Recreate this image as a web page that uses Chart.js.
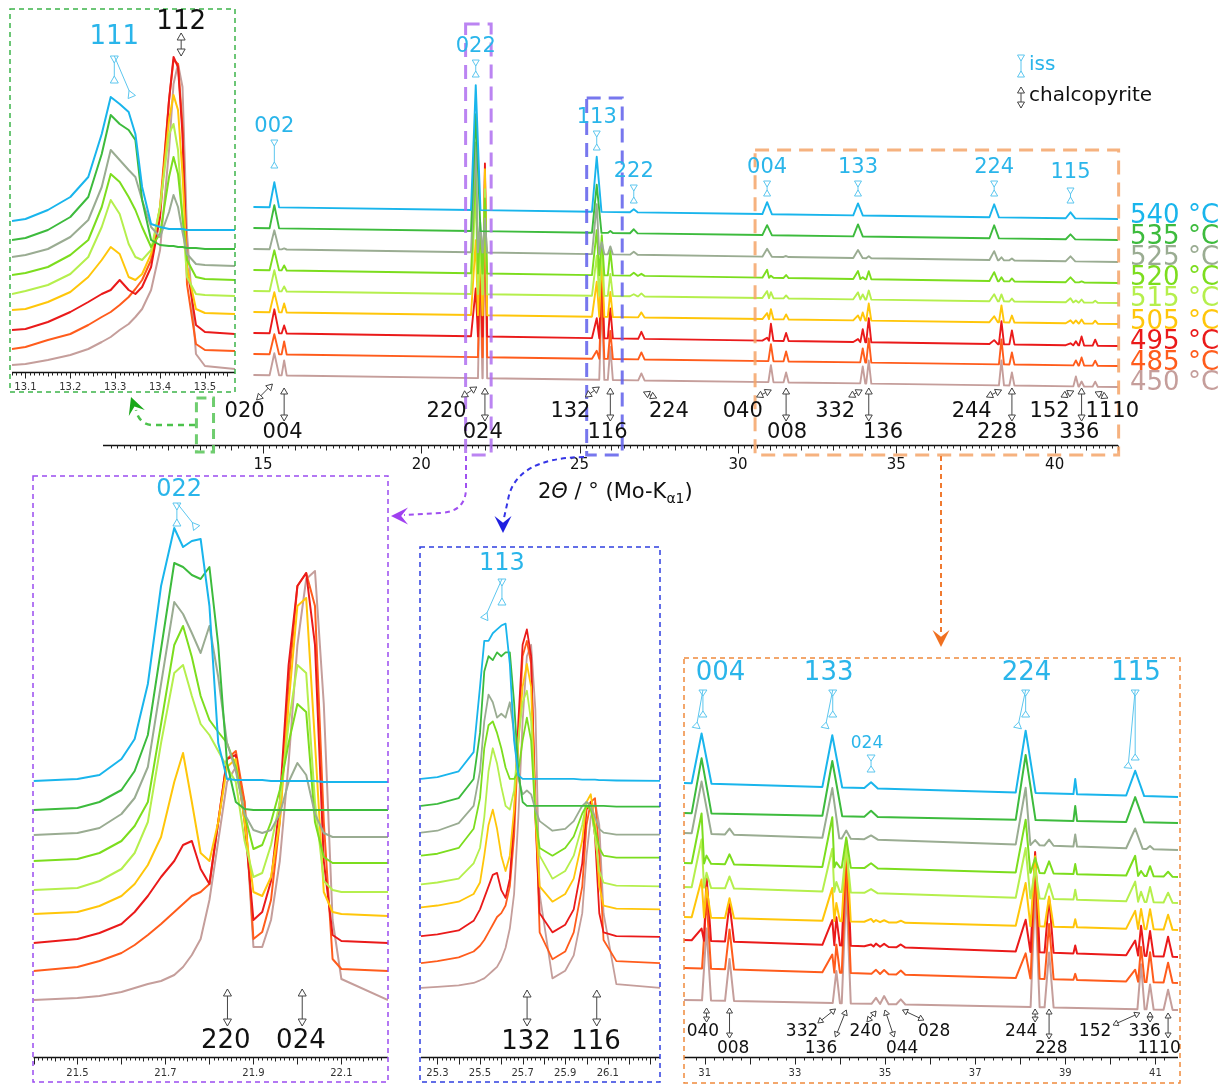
<!DOCTYPE html>
<html>
<head>
<meta charset="utf-8">
<script src="https://cdn.jsdelivr.net/npm/chart.js@4.4.0/dist/chart.umd.min.js"></script>
<style>
body { margin: 0; background: #fff; }
#wrap { position: relative; width: 1228px; height: 1085px; overflow: hidden; background: #fff; }
#wrap canvas { position: absolute; left: 0; top: 0; }
</style>
</head>
<body>
<div id="wrap">
  <canvas id="main" width="1228" height="1085"></canvas>
  <canvas id="inset1" width="1228" height="1085"></canvas>
  <canvas id="inset2" width="1228" height="1085"></canvas>
  <canvas id="inset3" width="1228" height="1085"></canvas>
  <canvas id="inset4" width="1228" height="1085"></canvas>
</div>
<script>
// temperatures, top trace first (drawn on top)
const temps = ['540', '535', '525', '520', '515', '505', '495', '485', '450'];
const traceColors = ['#19b5ec', '#3dbb3d', '#9aac92', '#7cdd1e', '#b5ef4d', '#ffc60a', '#ea1a1a', '#ff5c1c', '#c59e9b'];

// ---- main pattern: peak positions (2theta), half widths, heights per trace ----
const mainRange = [14.70, 42.0];
const mainBaseStart = [238, 217, 196, 175, 154, 133, 112, 91, 70];
const mainBaseEnd = [226, 205, 183, 162, 142, 121, 99, 79, 58];
const mainPeaks = [15.36, 15.67, 21.72, 21.86, 22.01, 25.54, 25.70, 25.97, 26.71, 26.95, 30.92, 31.04, 31.52,
  33.79, 33.94, 34.13, 38.09, 38.32, 38.65, 40.50, 40.67, 40.85, 41.28];
const mainWidths = [0.15, 0.08, 0.15, 0.07, 0.07, 0.15, 0.08, 0.08, 0.12, 0.1, 0.15, 0.08, 0.08,
  0.15, 0.08, 0.08, 0.15, 0.08, 0.08, 0.15, 0.08, 0.08, 0.08];
const mainHeights = [
  [25, 0, 125, 0, 0, 55, 0, 0, 3, 0, 12, 0, 0, 12, 0, 0, 13, 0, 0, 6, 0, 0, 0],
  [23, 0, 117, 0, 0, 48, 0, 2, 4, 0, 10, 0, 0, 12, 0, 0, 13, 0, 0, 5, 0, 0, 0],
  [19, 1, 110, 30, 34, 50, 12, 8, 3, 0, 8, 0, 1, 8, 0, 2, 9, 3, 2, 5, 0, 0, 0],
  [20, 5, 110, 44, 75, 45, 40, 25, 3, 2, 8, 2, 3, 8, 2, 8, 9, 4, 3, 5, 0, 1, 0],
  [21, 5, 105, 55, 105, 40, 50, 22, 2, 3, 7, 6, 3, 7, 5, 9, 7, 7, 3, 4, 2, 3, 2],
  [20, 9, 75, 73, 146, 35, 60, 25, 0, 5, 6, 10, 5, 5, 8, 17, 6, 17, 7, 3, 3, 4, 3],
  [24, 8, 48, 88, 173, 20, 75, 30, 0, 7, 3, 17, 8, 3, 13, 24, 4, 23, 14, 2, 4, 9, 6],
  [20, 13, 0, 103, 186, 8, 70, 28, 0, 7, 0, 17, 10, 0, 14, 24, 0, 25, 12, 0, 5, 8, 5],
  [22, 15, 0, 109, 200, 0, 82, 33, 0, 7, 0, 17, 10, 0, 17, 23, 0, 25, 13, 0, 10, 5, 5]
];

// ---- inset 1 (111 / 112) ----
const in1X = [13.07, 13.10, 13.15, 13.20, 13.24, 13.27, 13.29, 13.31, 13.33, 13.345, 13.36, 13.38, 13.40,
  13.42, 13.43, 13.44, 13.45, 13.46, 13.48, 13.50, 13.567];
const in1Y = [
  [151, 153, 162, 175, 195, 238, 275, 268, 260, 238, 185, 148, 145, 143, 143, 143, 143, 142, 142, 142, 142],
  [132, 134, 142, 155, 175, 218, 257, 248, 242, 232, 172, 132, 127, 126, 126, 125, 125, 124, 124, 123, 123],
  [115, 117, 123, 135, 152, 185, 222, 212, 202, 195, 172, 145, 135, 160, 177, 165, 140, 118, 108, 107, 106],
  [97, 99, 105, 117, 132, 165, 198, 190, 175, 162, 145, 125, 138, 195, 215, 198, 155, 112, 95, 93, 92],
  [78, 81, 87, 98, 115, 145, 172, 158, 128, 115, 112, 122, 165, 238, 248, 222, 155, 95, 78, 77, 76],
  [62, 63, 70, 80, 95, 112, 125, 118, 95, 92, 98, 118, 165, 252, 277, 262, 198, 105, 63, 59, 58],
  [42, 43, 50, 60, 70, 78, 82, 92, 82, 78, 85, 105, 155, 272, 315, 305, 238, 105, 47, 40, 38],
  [23, 25, 32, 38, 47, 55, 60, 67, 75, 83, 92, 112, 165, 272, 312, 308, 245, 88, 28, 22, 21],
  [7, 8, 12, 17, 23, 30, 35, 42, 48, 55, 63, 82, 122, 222, 288, 308, 285, 138, 18, 6, 3]
];

// ---- inset 2 (022 / 220 / 024) ----
const in2X = [21.40, 21.50, 21.55, 21.60, 21.63, 21.66, 21.69, 21.72, 21.74, 21.76, 21.78, 21.80, 21.82, 21.84,
  21.86, 21.88, 21.90, 21.92, 21.94, 21.96, 21.98, 22.00, 22.02, 22.04, 22.06, 22.08, 22.10, 22.206];
const in2Y = [
  [276, 278, 282, 298, 318, 373, 471, 529, 510, 516, 518, 451, 314, 278, 277, 277, 277, 277, 276, 276, 276, 276, 276, 276, 275, 275, 275, 275],
  [247, 249, 255, 267, 286, 322, 408, 494, 490, 482, 478, 490, 412, 294, 255, 248, 247, 247, 247, 247, 247, 247, 247, 247, 247, 247, 247, 247],
  [222, 224, 229, 243, 259, 290, 373, 455, 443, 424, 404, 431, 380, 314, 286, 243, 227, 224, 227, 243, 275, 294, 282, 243, 224, 220, 220, 220],
  [196, 198, 204, 216, 231, 255, 333, 412, 431, 400, 361, 337, 325, 314, 290, 243, 208, 212, 235, 267, 314, 353, 345, 235, 200, 194, 194, 194],
  [167, 169, 176, 188, 204, 235, 314, 384, 392, 361, 333, 322, 306, 290, 275, 216, 180, 184, 212, 255, 333, 392, 384, 255, 176, 167, 165, 165],
  [143, 145, 151, 161, 173, 192, 220, 275, 304, 255, 204, 196, 235, 290, 298, 235, 165, 161, 180, 235, 353, 451, 459, 314, 165, 145, 143, 141],
  [114, 118, 124, 133, 145, 161, 180, 196, 212, 216, 188, 173, 235, 298, 302, 235, 137, 145, 176, 255, 392, 471, 484, 412, 196, 122, 116, 114],
  [86, 90, 96, 104, 112, 122, 133, 145, 153, 161, 165, 173, 235, 298, 306, 255, 118, 125, 157, 235, 373, 471, 484, 451, 235, 98, 88, 86],
  [57, 59, 61, 65, 69, 73, 76, 82, 90, 102, 118, 157, 216, 275, 290, 255, 110, 110, 137, 196, 294, 412, 478, 486, 353, 137, 78, 57]
];

// ---- inset 3 (113 / 132 / 116) ----
const in3X = [25.223, 25.30, 25.40, 25.47, 25.50, 25.52, 25.54, 25.56, 25.58, 25.60, 25.62, 25.64, 25.66, 25.68, 25.70,
  25.72, 25.74, 25.76, 25.78, 25.84, 25.90, 25.94, 25.98, 26.00, 26.02, 26.04, 26.06, 26.08, 26.14, 26.345];
const in3Y = [
  [725, 730, 745, 795, 965, 1085, 1085, 1105, 1115, 1125, 1130, 1025, 825, 735, 725, 725, 725, 725, 725, 725, 725, 725, 723, 723, 723, 723, 722, 722, 721, 720],
  [655, 660, 675, 725, 845, 1005, 1045, 1035, 1055, 1045, 1055, 1055, 925, 745, 665, 655, 655, 655, 655, 655, 655, 655, 655, 655, 655, 655, 655, 655, 653, 653],
  [585, 590, 610, 655, 745, 875, 945, 925, 885, 895, 885, 925, 845, 725, 685, 695, 685, 645, 615, 590, 595, 615, 655, 665, 655, 625, 595, 585, 580, 580],
  [525, 530, 545, 595, 675, 805, 865, 875, 845, 805, 755, 725, 725, 745, 825, 885, 825, 625, 545, 525, 545, 575, 635, 655, 645, 595, 545, 525, 520, 520],
  [450, 455, 465, 505, 545, 625, 745, 805, 765, 705, 655, 645, 695, 825, 925, 955, 875, 645, 525, 465, 485, 525, 605, 665, 655, 575, 485, 455, 447, 445],
  [390, 395, 405, 425, 455, 525, 605, 645, 595, 525, 485, 525, 645, 825, 965, 1025, 965, 625, 445, 405, 425, 465, 565, 665, 685, 605, 445, 395, 387, 385],
  [315, 320, 330, 355, 385, 415, 445, 475, 480, 435, 415, 465, 625, 875, 1075, 1115, 1045, 625, 375, 325, 345, 385, 505, 645, 665, 575, 375, 325, 315, 313],
  [245, 250, 260, 275, 290, 305, 325, 345, 365, 375, 395, 445, 575, 825, 1045, 1085, 1025, 675, 325, 255, 275, 325, 445, 605, 665, 675, 525, 305, 250, 245],
  [180, 183, 187, 193, 200, 205, 215, 225, 235, 255, 285, 335, 425, 625, 875, 1045, 1075, 905, 425, 205, 225, 265, 375, 525, 625, 665, 605, 375, 190, 180]
];

// ---- inset 4 (30.5 - 41.5 deg) ----
const in4Range = [30.54, 41.5];
const in4BaseStart = [274, 244, 224, 194, 170, 140, 117, 89, 57];
const in4BaseEnd = [260, 234, 207, 180, 154, 127, 100, 74, 47];
const in4Peaks = [30.93, 31.04, 31.55, 33.83, 33.92, 34.14, 34.69, 34.80, 34.98, 35.35, 38.12, 38.33, 38.64, 39.22, 40.55, 40.68, 40.88, 41.28];
const in4Widths = [0.22, 0.1, 0.1, 0.22, 0.08, 0.1, 0.15, 0.1, 0.1, 0.1, 0.22, 0.1, 0.1, 0.04, 0.2, 0.08, 0.08, 0.1];
const in4Heights = [
  [50, 0, 0, 52, 0, 0, 6, 0, 0, 0, 62, 0, 0, 15, 25, 0, 0, 0],
  [55, 0, 0, 55, 0, 0, 6, 0, 0, 0, 65, 0, 0, 15, 25, 0, 0, 0],
  [52, 0, 6, 50, 0, 8, 4, 0, 0, 0, 57, 5, 6, 12, 20, 0, 3, 0],
  [50, 8, 10, 50, 5, 30, 5, 0, 0, 0, 53, 15, 12, 10, 20, 5, 10, 5],
  [48, 15, 12, 43, 10, 45, 4, 0, 0, 0, 50, 30, 15, 10, 20, 10, 15, 10],
  [38, 30, 20, 33, 18, 80, 3, 2, 2, 2, 43, 70, 30, 8, 18, 20, 20, 15],
  [12, 65, 38, 25, 28, 105, 2, 3, 3, 3, 32, 100, 55, 8, 15, 30, 25, 20],
  [0, 70, 40, 18, 28, 110, 0, 4, 4, 4, 25, 110, 55, 6, 12, 35, 30, 20],
  [0, 72, 42, 0, 32, 115, 0, 6, 8, 5, 0, 115, 55, 0, 0, 45, 25, 20]
];

const W = 1228, H = 1085;
const ISS = '#2ab5ea';
const ISS_LINE = '#5cc6ee';
const CH = '#444';
const FONT = '"DejaVu Sans", Verdana, sans-serif';

// sloping baseline with a triangle per listed peak
function buildPeakTrace(range, b0, b1, peaks, widths, heights) {
  const base = x => b0 + (b1 - b0) * (x - range[0]) / (range[1] - range[0]);
  const idx = peaks.map((p, i) => i).filter(i => heights[i] > 0);
  const pts = [{x: range[0], y: b0}];
  idx.forEach((i, k) => {
    const p = peaks[i];
    let l = p - widths[i], r = p + widths[i];
    if (k > 0) l = Math.max(l, (peaks[idx[k - 1]] + p) / 2);
    if (k < idx.length - 1) r = Math.min(r, (p + peaks[idx[k + 1]]) / 2);
    pts.push({x: l, y: base(l)}, {x: p, y: base(p) + heights[i]}, {x: r, y: base(r)});
  });
  pts.push({x: range[1], y: b1});
  return pts;
}

function sampled(xs, ys) {
  return xs.map((x, i) => ({x: x, y: ys[i]}));
}

const onStep = (v, s) => Math.abs(v / s - Math.round(v / s)) < 1e-6;

// axis line, ruler ticks and tick labels from the x scale's ticks
function drawAxis(chart, ax) {
  const sc = chart.scales.x, ctx = chart.ctx, area = chart.chartArea;
  const y0 = Math.round(area.bottom) + 0.5;
  ctx.save();
  ctx.strokeStyle = '#111';
  ctx.lineWidth = 1.5;
  ctx.beginPath();
  ctx.moveTo(area.left, y0);
  ctx.lineTo(area.right, y0);
  ctx.stroke();
  ctx.lineWidth = 1;
  ctx.strokeStyle = '#222';
  ctx.beginPath();
  sc.ticks.forEach(t => {
    const v = t.value;
    if (!onStep(v, ax.minor)) return;
    let len = ax.lens[0];
    if (onStep(v, ax.major)) len = ax.lens[2];
    else if (ax.mid && onStep(v, ax.mid)) len = ax.lens[1];
    const x = Math.round(sc.getPixelForValue(v)) + 0.5;
    ctx.moveTo(x, y0);
    ctx.lineTo(x, y0 + len);
  });
  ctx.stroke();
  ctx.font = ax.size + 'px ' + FONT;
  ctx.fillStyle = ax.color;
  ctx.textAlign = 'center';
  ctx.textBaseline = 'middle';
  sc.ticks.forEach(t => {
    const lab = ax.label(t.value);
    if (lab) ctx.fillText(lab, sc.getPixelForValue(t.value), y0 + ax.offset);
  });
  ctx.restore();
}

function text(ctx, s, x, y, size, color, align) {
  ctx.save();
  ctx.font = size + 'px ' + FONT;
  ctx.fillStyle = color;
  ctx.textAlign = align || 'center';
  ctx.textBaseline = 'middle';
  ctx.fillText(s, x, y);
  ctx.restore();
}

function head(ctx, tx, ty, ux, uy, len, half) {
  const bx = tx - ux * len, by = ty - uy * len;
  ctx.beginPath();
  ctx.moveTo(tx, ty);
  ctx.lineTo(bx - uy * half, by + ux * half);
  ctx.lineTo(bx + uy * half, by - ux * half);
  ctx.closePath();
  ctx.fillStyle = '#fff';
  ctx.fill();
  ctx.stroke();
}

// mode 'in': iss style (heads point inward), 'out': chalcopyrite double arrow
function seg(ctx, x1, y1, x2, y2, color, mode, len, half) {
  len = len || 6; half = half || 3.5;
  const d = Math.hypot(x2 - x1, y2 - y1), ux = (x2 - x1) / d, uy = (y2 - y1) / d;
  ctx.save();
  ctx.strokeStyle = color;
  ctx.lineWidth = 1;
  ctx.beginPath();
  ctx.moveTo(x1, y1);
  ctx.lineTo(x2, y2);
  ctx.stroke();
  if (mode === 'in') {
    head(ctx, x1 + ux * len, y1 + uy * len, ux, uy, len, half);
    head(ctx, x2 - ux * len, y2 - uy * len, -ux, -uy, len, half);
  } else {
    head(ctx, x1, y1, -ux, -uy, len, half);
    head(ctx, x2, y2, ux, uy, len, half);
  }
  ctx.restore();
}

// iss marker split in two components
function splitMarker(ctx, x, yTop, yBot, x2, y2, len, half) {
  seg(ctx, x, yTop, x, yBot, ISS_LINE, 'in', len, half);
  const d = Math.hypot(x2 - x, y2 - yTop), ux = (x2 - x) / d, uy = (y2 - yTop) / d;
  ctx.save();
  ctx.strokeStyle = ISS_LINE;
  ctx.lineWidth = 1;
  ctx.beginPath();
  ctx.moveTo(x, yTop);
  ctx.lineTo(x2, y2);
  ctx.stroke();
  head(ctx, x2 - ux * len, y2 - uy * len, -ux, -uy, len, half);
  ctx.restore();
}

function dashedRect(ctx, x1, y1, x2, y2, color, width, dash) {
  ctx.save();
  ctx.strokeStyle = color;
  ctx.lineWidth = width;
  ctx.setLineDash(dash);
  ctx.strokeRect(x1, y1, x2 - x1, y2 - y1);
  ctx.restore();
}

function dart(ctx, x, y, ang, size, color) {
  ctx.save();
  ctx.translate(x, y);
  ctx.rotate(ang);
  ctx.fillStyle = color;
  ctx.beginPath();
  ctx.moveTo(0, 0);
  ctx.lineTo(-size, -size * 0.5);
  ctx.lineTo(-size * 0.6, 0);
  ctx.lineTo(-size, size * 0.5);
  ctx.closePath();
  ctx.fill();
  ctx.restore();
}

function makeChart(id, cfg) {
  return new Chart(document.getElementById(id), {
    type: 'line',
    data: {
      datasets: cfg.series.map((pts, i) => ({
        label: temps[i] + ' °C',
        data: pts,
        borderColor: traceColors[i],
        borderWidth: cfg.lineWidth,
        borderJoinStyle: 'round',
        pointRadius: 0,
        tension: 0,
        fill: false
      }))
    },
    options: {
      responsive: false,
      animation: false,
      devicePixelRatio: 1,
      events: [],
      layout: {padding: {left: cfg.area[0], right: W - cfg.area[1], top: cfg.area[2], bottom: H - cfg.area[3]}},
      plugins: {legend: {display: false}, tooltip: {enabled: false}},
      scales: {
        x: {type: 'linear', display: false, min: cfg.xMin, max: cfg.xMax,
          ticks: {stepSize: cfg.axis.minor, autoSkip: false, maxRotation: 0}},
        y: {display: false, min: 0, max: cfg.yMax}
      }
    },
    plugins: [{id: id + 'Deco', afterDraw: chart => { drawAxis(chart, cfg.axis); cfg.draw(chart); }}]
  });
}

// ---------- main chart decorations ----------
const mainIss = [
  ['002', 15.36, 127, 140, 168], ['022', 21.72, 47, 60, 77], ['113', 25.54, 118, 131, 150],
  ['222', 26.71, 172, 185, 203], ['004', 30.92, 168, 181, 196], ['133', 33.79, 168, 181, 196],
  ['224', 38.09, 168, 181, 196], ['115', 40.50, 173, 188, 203]
];
const mainChRow1 = [
  ['020', 14.42, [14.80, 400, 15.30, 384]], ['220', 20.80, [21.27, 397, 21.75, 387]],
  ['132', 24.71, [25.18, 397, 25.62, 387]], ['224', 27.82, [27.02, 392, 27.43, 398]],
  ['040', 30.15, [30.59, 397, 31.05, 390]], ['332', 33.07, [33.50, 397, 33.92, 390]],
  ['244', 37.38, [37.85, 397, 38.32, 390]], ['152', 39.84, [40.20, 397, 40.60, 391]],
  ['1110', 41.82, [41.28, 392, 41.68, 398]]
];
const mainChRow2 = [
  ['004', 15.62, 15.67], ['024', 21.94, 22.01], ['116', 25.88, 25.97], ['008', 31.55, 31.52],
  ['136', 34.58, 34.13], ['228', 38.18, 38.65], ['336', 40.78, 40.85]
];
const tempLabelY = [216, 237, 258, 278, 299, 322, 342, 363, 383];

function drawMain(chart) {
  const ctx = chart.ctx, sx = chart.scales.x, px = v => sx.getPixelForValue(v);

  // zoom boxes
  dashedRect(ctx, px(12.9), 398, px(13.44), 452, 'rgba(95,200,95,0.9)', 3, [10, 6]);
  dashedRect(ctx, px(21.4), 24, px(22.206), 455, 'rgba(175,110,240,0.85)', 3, [14, 8]);
  dashedRect(ctx, px(25.223), 98, px(26.345), 455, 'rgba(95,95,235,0.85)', 3, [14, 8]);
  dashedRect(ctx, px(30.54), 150, px(42.02), 455, 'rgba(245,165,105,0.85)', 3, [14, 8]);

  // connectors to insets
  ctx.save();
  ctx.setLineDash([6, 5]);
  ctx.lineWidth = 2.5;
  ctx.strokeStyle = '#4cc24c';
  ctx.beginPath(); ctx.moveTo(195, 425); ctx.lineTo(152, 425); ctx.quadraticCurveTo(139, 424, 136, 410); ctx.stroke();
  ctx.lineWidth = 2;
  ctx.setLineDash([5, 4]);
  ctx.strokeStyle = '#a050f0';
  ctx.beginPath(); ctx.moveTo(466, 456); ctx.lineTo(466, 488); ctx.quadraticCurveTo(466, 512, 440, 513); ctx.lineTo(404, 515); ctx.stroke();
  ctx.strokeStyle = '#3535e6';
  ctx.beginPath(); ctx.moveTo(584, 457); ctx.quadraticCurveTo(515, 458, 508, 500); ctx.lineTo(504, 518); ctx.stroke();
  ctx.strokeStyle = '#f07a30';
  ctx.beginPath(); ctx.moveTo(941, 456); ctx.lineTo(941, 632); ctx.stroke();
  ctx.restore();
  dart(ctx, 131, 397, Math.atan2(-11, -4), 17, '#1aa81a');
  dart(ctx, 391, 516, Math.PI, 17, '#a040f0');
  dart(ctx, 503, 533, Math.PI / 2, 17, '#2020e0');
  dart(ctx, 941, 647, Math.PI / 2, 17, '#f07020');

  // iss labels
  mainIss.forEach(([t, x, ly, y1, y2]) => {
    text(ctx, t, px(x), ly, 21, ISS);
    seg(ctx, px(x), y1, px(x), y2, ISS_LINE, 'in');
  });
  // chalcopyrite labels
  mainChRow1.forEach(([t, lx, a]) => {
    text(ctx, t, px(lx), 412, 21, '#111');
    seg(ctx, px(a[0]), a[1], px(a[2]), a[3], CH, 'out');
  });
  mainChRow2.forEach(([t, lx, ax]) => {
    text(ctx, t, px(lx), 433, 21, '#111');
    seg(ctx, px(ax), 388, px(ax), 421, CH, 'out');
  });

  // temperatures
  temps.forEach((t, i) => text(ctx, t + ' °C', 1130, tempLabelY[i], 26, traceColors[i], 'left'));

  // legend
  seg(ctx, 1021, 55, 1021, 77, ISS_LINE, 'in');
  text(ctx, 'iss', 1029, 65, 20, ISS, 'left');
  seg(ctx, 1021, 87, 1021, 108, CH, 'out');
  text(ctx, 'chalcopyrite', 1029, 96, 20, '#111', 'left');

  // axis title
  ctx.save();
  ctx.fillStyle = '#111';
  ctx.textAlign = 'left';
  ctx.textBaseline = 'middle';
  let x = 538;
  const y = 493;
  ctx.font = '21px ' + FONT; ctx.fillText('2', x, y); x += ctx.measureText('2').width;
  ctx.font = 'italic 21px ' + FONT; ctx.fillText('Θ', x, y); x += ctx.measureText('Θ').width;
  ctx.font = '21px ' + FONT; ctx.fillText(' / ° (Mo-K', x, y); x += ctx.measureText(' / ° (Mo-K').width;
  ctx.font = '14px ' + FONT; ctx.fillText('α1', x, y + 6); x += ctx.measureText('α1').width;
  ctx.font = '21px ' + FONT; ctx.fillText(')', x, y);
  ctx.restore();
}

function drawInset1(chart) {
  const ctx = chart.ctx, px = v => chart.scales.x.getPixelForValue(v);
  dashedRect(ctx, 10, 9, 235, 392, '#3cb44a', 1.5, [5, 4]);
  text(ctx, '111', px(13.298), 37, 26, ISS);
  splitMarker(ctx, px(13.298), 56, 83, px(13.337), 97, 7, 4);
  text(ctx, '112', px(13.447), 22, 26, '#111');
  seg(ctx, px(13.447), 33, px(13.447), 56, CH, 'out', 7, 4);
}

function drawInset2(chart) {
  const ctx = chart.ctx, px = v => chart.scales.x.getPixelForValue(v);
  dashedRect(ctx, 33, 476, 388, 1082, '#9a4cf0', 1.5, [5, 4]);
  text(ctx, '022', px(21.731), 490, 24, ISS);
  splitMarker(ctx, px(21.726), 503, 526, px(21.771), 528, 7, 4);
  seg(ctx, px(21.841), 989, px(21.841), 1026, CH, 'out', 7, 4);
  seg(ctx, px(22.011), 989, px(22.011), 1026, CH, 'out', 7, 4);
  text(ctx, '220', px(21.837), 1041, 26, '#111');
  text(ctx, '024', px(22.008), 1041, 26, '#111');
}

function drawInset3(chart) {
  const ctx = chart.ctx, px = v => chart.scales.x.getPixelForValue(v);
  dashedRect(ctx, 420, 547, 660, 1082, '#2f3fe0', 1.5, [5, 4]);
  text(ctx, '113', px(25.603), 564, 24, ISS);
  splitMarker(ctx, px(25.603), 579, 605, px(25.52), 619, 7, 4);
  seg(ctx, px(25.721), 990, px(25.721), 1026, CH, 'out', 7, 4);
  seg(ctx, px(26.048), 990, px(26.048), 1026, CH, 'out', 7, 4);
  text(ctx, '132', px(25.716), 1042, 26, '#111');
  text(ctx, '116', px(26.045), 1042, 26, '#111');
}

const in4Iss = [['004', 31.35, 30.96, 30.81, 717, 728], ['133', 33.75, 33.84, 33.67, 717, 728],
  ['224', 38.14, 38.12, 37.94, 717, 728], ['115', 40.57, 40.55, 40.39, 760, 768]];
const in4ChLabels = [['040', 30.96, 1032], ['008', 31.63, 1049], ['332', 33.16, 1032], ['136', 33.58, 1049],
  ['240', 34.57, 1032], ['044', 35.38, 1049], ['028', 36.09, 1032], ['244', 38.02, 1032], ['228', 38.69, 1049],
  ['152', 39.66, 1032], ['336', 40.76, 1032], ['1110', 41.08, 1049]];
const in4ChArrows = [[31.04, 1008, 31.04, 1022], [31.55, 1008, 31.55, 1038], [33.51, 1023, 33.90, 1009],
  [33.90, 1037, 34.14, 1010], [34.60, 1022, 34.80, 1011], [35.00, 1010, 35.20, 1037], [35.39, 1010, 35.86, 1020],
  [38.33, 1009, 38.33, 1022], [38.64, 1009, 38.64, 1039], [40.06, 1025, 40.65, 1013], [40.88, 1012, 40.88, 1022],
  [41.28, 1013, 41.28, 1038]];

function drawInset4(chart) {
  const ctx = chart.ctx, px = v => chart.scales.x.getPixelForValue(v);
  dashedRect(ctx, 684, 658, 1180, 1083, '#f08a3c', 1.5, [5, 4]);
  in4Iss.forEach(([t, lx, mx, dx, yb, yd]) => {
    text(ctx, t, px(lx), 673, 26, ISS);
    splitMarker(ctx, px(mx), 690, yb, px(dx), yd, 6, 4);
  });
  text(ctx, '024', px(34.6), 744, 17, ISS);
  seg(ctx, px(34.69), 755, px(34.69), 772, ISS_LINE, 'in', 6, 4);
  in4ChArrows.forEach(a => seg(ctx, px(a[0]), a[1], px(a[2]), a[3], CH, 'out', 5, 3));
  in4ChLabels.forEach(([t, x, y]) => text(ctx, t, px(x), y, 17, '#111'));
}

makeChart('main', {
  area: [103, 1118, 20, 445], xMin: 9.95, xMax: 42.0, yMax: 425, lineWidth: 1.9,
  axis: {minor: 0.2, mid: 1, major: 5, lens: [3, 5, 8], size: 15, offset: 20, color: '#111',
    label: v => onStep(v, 5) ? String(Math.round(v)) : ''},
  series: temps.map((t, i) => buildPeakTrace(mainRange, mainBaseStart[i], mainBaseEnd[i], mainPeaks, mainWidths, mainHeights[i])),
  draw: drawMain
});

makeChart('inset1', {
  area: [12, 235, 15, 372], xMin: 13.07, xMax: 13.567, yMax: 357, lineWidth: 2,
  axis: {minor: 0.01, mid: 0.05, major: 0.1, lens: [3, 4, 6], size: 10, offset: 15, color: '#333',
    label: v => onStep(v, 0.1) ? v.toFixed(1) : ''},
  series: temps.map((t, i) => sampled(in1X, in1Y[i])),
  draw: drawInset1
});

makeChart('inset2', {
  area: [33.5, 388, 480, 1057], xMin: 21.4, xMax: 22.206, yMax: 577, lineWidth: 2,
  axis: {minor: 0.01, mid: 0.05, major: 0.1, lens: [3, 4, 7], size: 10, offset: 16, color: '#333',
    label: v => (onStep(v, 0.1) && !onStep(v, 0.2)) ? v.toFixed(1) : ''},
  series: temps.map((t, i) => sampled(in2X, in2Y[i])),
  draw: drawInset2
});

makeChart('inset3', {
  area: [421, 660, 550, 1057], xMin: 25.223, xMax: 26.345, yMax: 1322, lineWidth: 1.8,
  axis: {minor: 0.02, mid: 0.1, major: 0.1, lens: [3, 7, 7], size: 10, offset: 16, color: '#333',
    label: v => (v < 26.2 && onStep(v, 0.1) && !onStep(v, 0.2)) ? v.toFixed(1) : ''},
  series: temps.map((t, i) => sampled(in3X, in3Y[i])),
  draw: drawInset3
});

makeChart('inset4', {
  area: [684, 1178, 662, 1057], xMin: 30.54, xMax: 41.5, yMax: 395, lineWidth: 2,
  axis: {minor: 0.2, mid: 1, major: 1, lens: [3, 7, 7], size: 10, offset: 16, color: '#333',
    label: v => (onStep(v, 1) && !onStep(v, 2)) ? String(Math.round(v)) : ''},
  series: temps.map((t, i) => buildPeakTrace(in4Range, in4BaseStart[i], in4BaseEnd[i], in4Peaks, in4Widths, in4Heights[i])),
  draw: drawInset4
});
</script>
</body>
</html>
